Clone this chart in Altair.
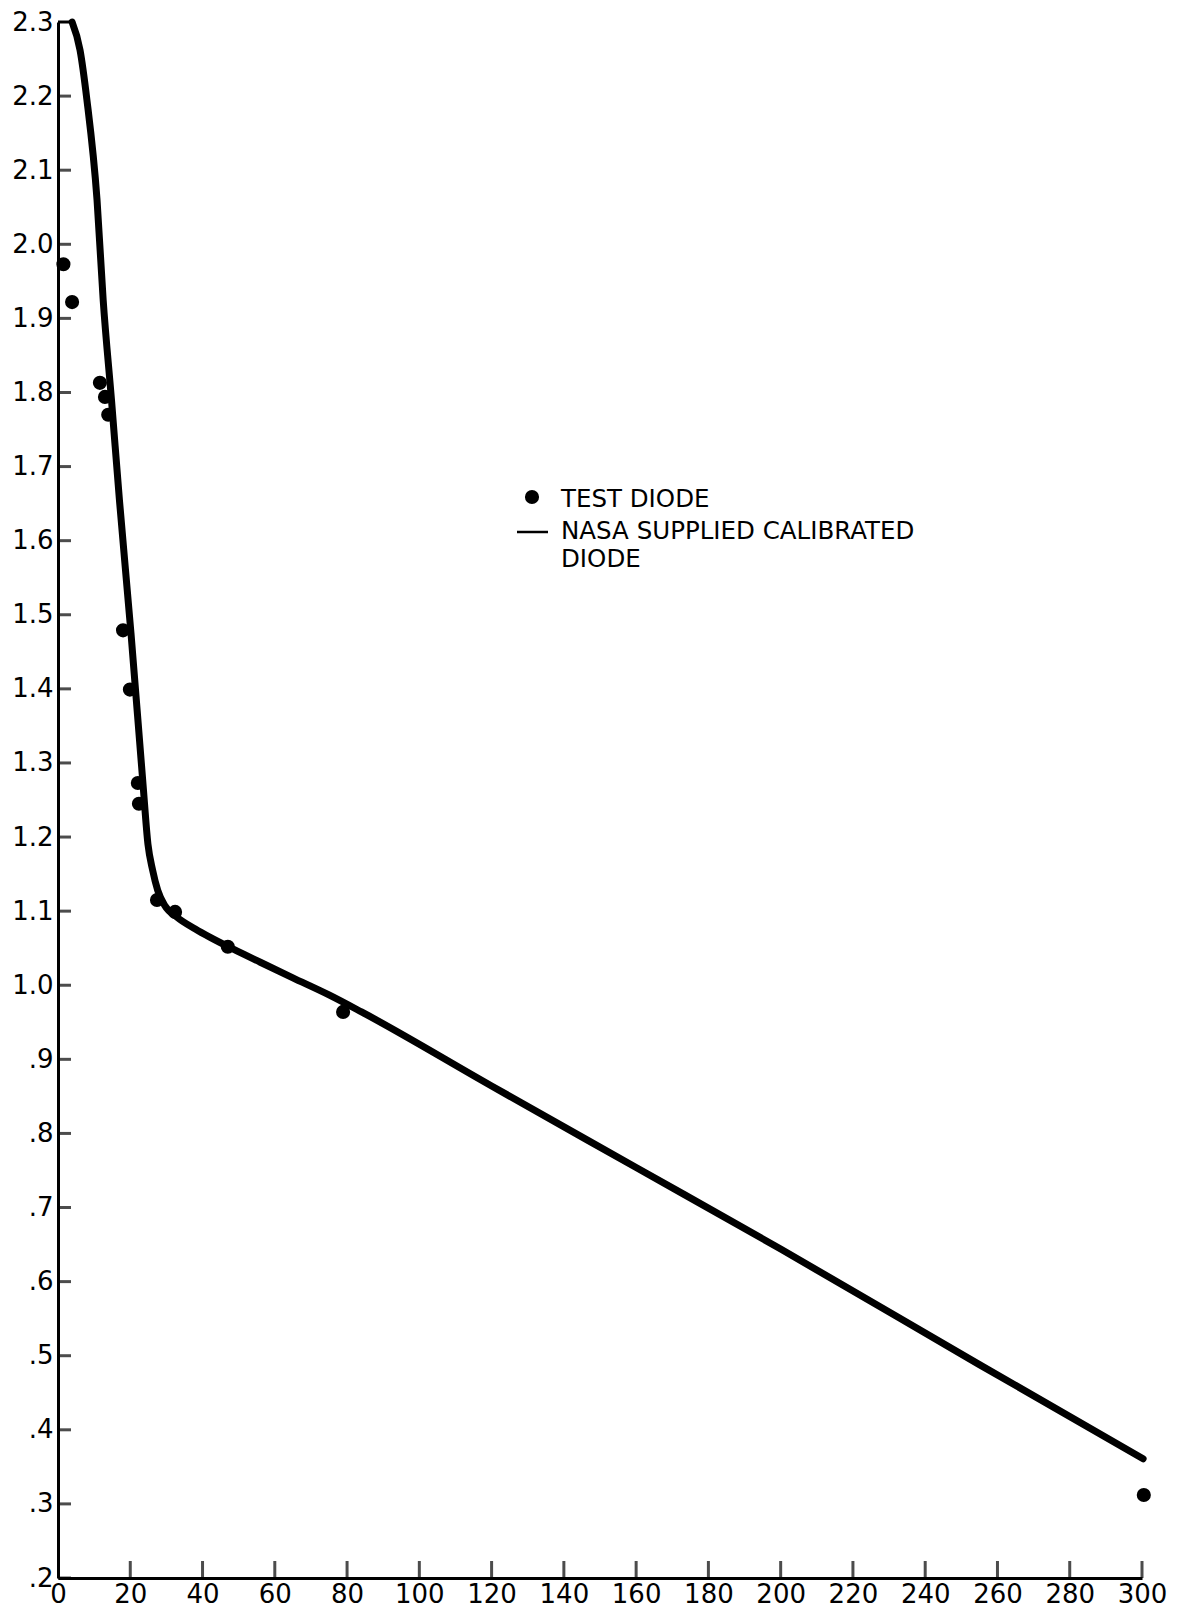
import altair as alt
import pandas as pd

# NASA supplied calibrated diode (curve)
curve_x = [3.9, 6.1, 8.0, 10.8, 12.5, 14.8, 17.0, 20.2, 23.5, 24.9, 26.2, 27.6, 29.5,
           32.9, 38.0, 42.0, 48.4, 56.0, 65.0, 75.0, 84.0, 120.0, 160.0, 200.0, 255.0, 300.3]
curve_y = [2.30, 2.262, 2.195, 2.06, 1.925, 1.79, 1.655, 1.475, 1.273, 1.19, 1.155, 1.128, 1.108,
           1.092, 1.076, 1.065, 1.049, 1.031, 1.010, 0.987, 0.964, 0.864, 0.754, 0.644, 0.488, 0.361]

# short thin segment at the top joining the axis
top_x = [0.0, 3.9]
top_y = [2.30, 2.30]

# Test diode (points)
test_x = [1.5, 3.9, 11.6, 13.0, 13.9, 18.0, 19.9, 22.1, 22.4, 27.4, 32.4, 47.0, 78.9, 300.5]
test_y = [1.973, 1.922, 1.813, 1.794, 1.770, 1.479, 1.399, 1.273, 1.245, 1.115, 1.099, 1.052, 0.964, 0.312]

x_ticks = [0, 20, 40, 60, 80, 100, 120, 140, 160, 180, 200, 220, 240, 260, 280, 300]
y_ticks = [0.2, 0.3, 0.4, 0.5, 0.6, 0.7, 0.8, 0.9, 1.0, 1.1, 1.2, 1.3, 1.4, 1.5, 1.6, 1.7,
           1.8, 1.9, 2.0, 2.1, 2.2, 2.3]

W, H = 1084, 1556
AXFONT = "DejaVu Sans"
FONT = "DejaVu Sans"

curve_df = pd.DataFrame({"x": curve_x, "y": curve_y})
top_df = pd.DataFrame({"x": top_x, "y": top_y})
test_df = pd.DataFrame({"x": test_x, "y": test_y})
xt_df = pd.DataFrame({"x": x_ticks[1:]})
yt_df = pd.DataFrame({"y": y_ticks[:-1]})

xscale = alt.Scale(domain=[0, 300], nice=False, zero=False)
yscale = alt.Scale(domain=[0.2, 2.3], nice=False, zero=False)

xaxis = alt.Axis(values=x_ticks, ticks=False, grid=False, domainWidth=3, domainColor="black",
                 labelFont=AXFONT, labelFontSize=26, labelColor="black", labelPadding=3,
                 title=None, labelFlush=False, labelOverlap=False)
yaxis = alt.Axis(values=y_ticks, ticks=False, grid=False, domainWidth=3, domainColor="black",
                 labelFont=AXFONT, labelFontSize=26, labelColor="black", labelPadding=5,
                 title=None, labelFlush=False, labelOverlap=False,
                 labelExpr="datum.value >= 1 ? format(datum.value, '.1f') : replace(format(datum.value, '.1f'), '0.', '.')")

line = alt.Chart(curve_df).mark_line(color="black", strokeWidth=7, interpolate="monotone",
                                     strokeCap="round", strokeJoin="round").encode(
    x=alt.X("x:Q", scale=xscale, axis=xaxis),
    y=alt.Y("y:Q", scale=yscale, axis=yaxis),
)

top = alt.Chart(top_df).mark_line(color="black", strokeWidth=3).encode(
    x=alt.X("x:Q", scale=xscale), y=alt.Y("y:Q", scale=yscale))

points = alt.Chart(test_df).mark_circle(color="black", opacity=1, size=200).encode(
    x=alt.X("x:Q", scale=xscale), y=alt.Y("y:Q", scale=yscale))

xticks = alt.Chart(xt_df).mark_tick(orient="vertical", color="black", size=17, thickness=3).encode(
    x=alt.X("x:Q", scale=xscale), y=alt.value(H - 8.5))

yticks = alt.Chart(yt_df).mark_tick(orient="horizontal", color="black", size=13, thickness=3).encode(
    y=alt.Y("y:Q", scale=yscale), x=alt.value(6.5))

# legend (annotation)
leg_dot = alt.Chart(pd.DataFrame({"k": [0]})).mark_circle(color="black", opacity=1, size=200).encode(
    x=alt.value(474), y=alt.value(475))
leg_dash = alt.Chart(pd.DataFrame({"k": [0]})).mark_rule(color="black", strokeWidth=2.5).encode(
    x=alt.value(459), x2=alt.value(490), y=alt.value(510))
leg_text = alt.Chart(pd.DataFrame({
    "t": ["TEST DIODE", "NASA SUPPLIED CALIBRATED", "DIODE"],
    "py": [485, 517, 545],
})).mark_text(align="left", baseline="alphabetic", font=FONT, fontSize=24.5, color="black").encode(
    text="t:N", x=alt.value(503), y=alt.Y("py:Q", scale=None))

chart = alt.layer(line, top, points, xticks, yticks, leg_dot, leg_dash, leg_text).properties(
    width=W, height=H,
    autosize=alt.AutoSizeParams(type="none"),
    padding={"left": 50, "top": 14, "right": 37, "bottom": 31},
    background="white",
).configure_view(stroke=None)

chart.save("out.html", embed_options={"renderer": "svg", "actions": False})
